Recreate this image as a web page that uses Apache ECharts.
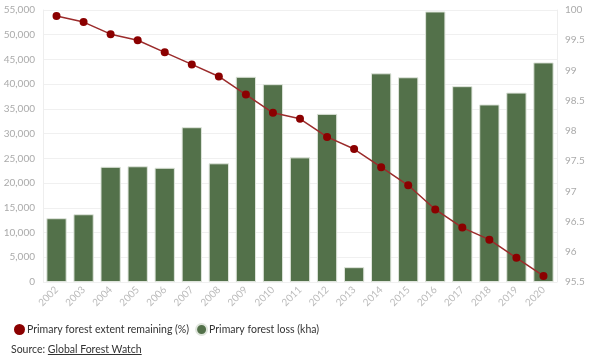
<!DOCTYPE html>
<html><head><meta charset="utf-8">
<script src="https://cdn.jsdelivr.net/npm/echarts@6/dist/echarts.min.js"></script>
<style>
html,body{margin:0;padding:0;background:#fff;}
#c{width:600px;height:357px;}
#src{position:absolute;left:11px;top:343px;font-family:Lato,"Open Sans",sans-serif;font-size:10.5px;color:#333;}
#src u{color:#333;}
</style></head>
<body>
<div id="c"></div>
<div id="src">Source: <u>Global Forest Watch</u></div>
<script>
const years = ['2002','2003','2004','2005','2006','2007','2008','2009','2010','2011','2012','2013','2014','2015','2016','2017','2018','2019','2020'];
const forestLoss = [12900,13700,23300,23400,23100,31300,24000,41500,40000,25200,34000,3000,42200,41400,54700,39600,35900,38300,44400];
const extentRemaining = [99.9,99.8,99.6,99.5,99.3,99.1,98.9,98.6,98.3,98.2,97.9,97.7,97.4,97.1,96.7,96.4,96.2,95.9,95.6];
const leftTicks = [0,5000,10000,15000,20000,25000,30000,35000,40000,45000,50000,55000];
const rightTicks = [95.5,96,96.5,97,97.5,98,98.5,99,99.5,100];

const chart = echarts.init(document.getElementById('c'));
const font = 'Lato, "Open Sans", sans-serif';
chart.setOption({
  animation:false,
  textStyle:{fontFamily:font},
  grid:{left:43,right:43,top:10,bottom:75,containLabel:false},
  legend:{
    left:9, top:318, itemGap:6, itemWidth:11, itemHeight:11,
    icon:'circle',
    textStyle:{fontFamily:font,fontSize:10.5,color:'#333',padding:[0,0,0,-3]},
    data:['Primary forest extent remaining (%)','Primary forest loss (kha)']
  },
  xAxis:{
    type:'category', data:years,
    axisLine:{show:false}, axisTick:{show:false},
    axisLabel:{rotate:45,color:'#bbbbbb',fontSize:10,fontFamily:font,margin:6,interval:0}
  },
  yAxis:[{
    type:'value', min:leftTicks[0], max:leftTicks[leftTicks.length-1], interval:5000,
    axisLine:{show:true,lineStyle:{color:'#eeeeee'}},
    splitLine:{lineStyle:{color:'#f0f0f0'}},
    axisLabel:{color:'#aaaaaa',fontSize:10,fontFamily:font,margin:8,
      formatter:v=>v.toLocaleString('en-US')}
  },{
    type:'value', min:rightTicks[0], max:rightTicks[rightTicks.length-1], interval:0.5,
    position:'right',
    axisLine:{show:true,lineStyle:{color:'#eeeeee'}},
    splitLine:{show:false},
    axisLabel:{color:'#aaaaaa',fontSize:10,fontFamily:font,margin:8}
  }],
  series:[{
    name:'Primary forest loss (kha)', type:'bar', data:forestLoss, yAxisIndex:0,
    barCategoryGap:'25%',
    itemStyle:{color:'#53714a',borderColor:'#dfe5dc',borderWidth:1},
    z:2
  },{
    name:'Primary forest extent remaining (%)', type:'line', data:extentRemaining, yAxisIndex:1,
    symbol:'circle', symbolSize:8,
    lineStyle:{color:'#9b2b2b',width:1.5},
    itemStyle:{color:'#8b0000'},
    z:3
  }]
});
</script>
</body></html>
